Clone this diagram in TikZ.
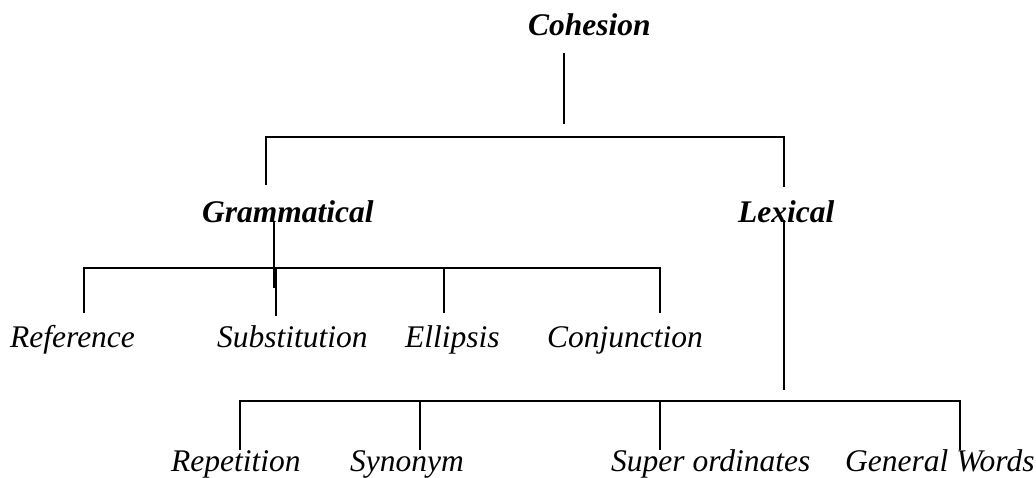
\documentclass[tikz,border=0pt]{standalone}
\usepackage{fontspec}
\setmainfont{Liberation Serif}
\begin{document}
\begin{tikzpicture}[x=1pt,y=-1pt,
  lbl/.style={inner sep=0pt,anchor=base west,font=\fontsize{31.5}{36}\selectfont\itshape},
  head/.style={lbl,font=\fontsize{31.5}{36}\selectfont\bfseries\itshape},
  ln/.style={line width=1.8pt}]
\useasboundingbox (0,0) rectangle (1036,478);
% texts
\node[head] (coh) at (528,36) {Cohesion};
\node[head] (gram) at (202,223) {Grammatical};
\node[head] (lex) at (738,223) {Lexical};
\node[lbl] (ref) at (10,348) {Reference};
\node[lbl] (sub) at (217,348) {Substitution};
\node[lbl] (ell) at (405,348) {Ellipsis};
\node[lbl] (con) at (547,348) {Conjunction};
\node[lbl] (rep) at (171,471) {Repetition};
\node[lbl] (syn) at (350,471) {Synonym};
\node[lbl] (sup) at (611,471) {Super ordinates};
\node[lbl] (gen) at (845,471) {General Words};
% connector points
\coordinate (c0) at (564,53);
\coordinate (c1) at (564,124);
\coordinate (hL) at (266,137);
\coordinate (hR) at (784,137);
\coordinate (gT) at (266,185);
\coordinate (lT) at (784,187);
\coordinate (g0) at (274,222);
\coordinate (g1) at (274,288);
\coordinate (h2L) at (84,268);
\coordinate (h2R) at (660,268);
\coordinate (l0) at (784,220);
\coordinate (l1) at (784,390);
\coordinate (h3L) at (240,401);
\coordinate (h3R) at (960,401);
% lines
\draw[ln] (c0) -- (c1);
\draw[ln] (gT) -- (hL) -- (hR) -- (lT);
\draw[ln] (g0) -- (g1);
\draw[ln] (84,313) -- (h2L) -- (h2R) -- (660,313);
\draw[ln] (276,268) -- (276,316);
\draw[ln] (444,268) -- (444,313);
\draw[ln] (l0) -- (l1);
\draw[ln] (240,450) -- (h3L) -- (h3R) -- (960,450);
\draw[ln] (420,401) -- (420,450);
\draw[ln] (660,401) -- (660,450);
\end{tikzpicture}
\end{document}
